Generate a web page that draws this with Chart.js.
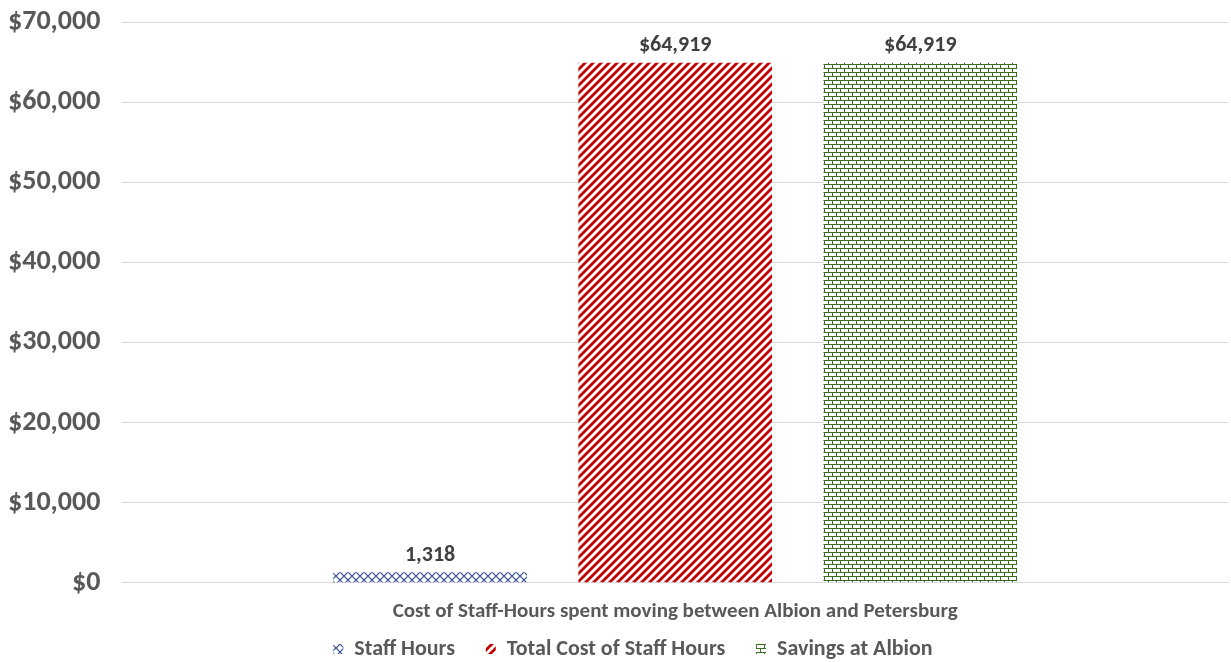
<!DOCTYPE html>
<html>
<head>
<meta charset="utf-8">
<script src="https://cdn.jsdelivr.net/npm/chart.js@4"></script>
<style>
  html, body { margin: 0; padding: 0; background: #fff; }
  #wrap { width: 1231px; height: 662px; }
</style>
</head>
<body>
<div id="wrap"><canvas id="chart"></canvas></div>
<script>
// chart data
const categories = ['Cost of Staff-Hours spent moving between Albion and Petersburg'];
const seriesNames = ['Staff Hours', 'Total Cost of Staff Hours', 'Savings at Albion'];
const staffHours = [1318];
const totalCost = [64919];
const savings = [64919];
const yTicks = [0, 10000, 20000, 30000, 40000, 50000, 60000, 70000];

const FONT = 'Carlito, Lato, "Open Sans", sans-serif';

// fill patterns (excel style)
function makePattern(size, draw) {
  const c = document.createElement('canvas');
  c.width = size; c.height = size;
  const g = c.getContext('2d');
  g.fillStyle = '#fff';
  g.fillRect(0, 0, size, size);
  draw(g, size);
  return g.createPattern(c, 'repeat');
}

const ctx = document.getElementById('chart').getContext('2d');

const crossPat = makePattern(8, (g, s) => {
  g.strokeStyle = '#2f4b8c'; g.lineWidth = 1.2;
  g.beginPath();
  g.moveTo(0, 0); g.lineTo(s, s);
  g.moveTo(s, 0); g.lineTo(0, s);
  g.stroke();
});

const stripePat = makePattern(8, (g, s) => {
  g.strokeStyle = '#c00000'; g.lineWidth = 2.8;
  g.beginPath();
  g.moveTo(-2, s + 2); g.lineTo(s + 2, -2);
  g.moveTo(-2, 2); g.lineTo(2, -2);
  g.moveTo(s - 2, s + 2); g.lineTo(s + 2, s - 2);
  g.stroke();
});

const brickPat = makePattern(8, (g, s) => {
  g.fillStyle = '#3b6a22';
  g.fillRect(0, 0, s, 1);
  g.fillRect(0, 4, s, 1);
  g.fillRect(0, 0, 1, 4);
  g.fillRect(4, 4, 1, 4);
});

// value labels above bars
const barLabels = {
  id: 'barLabels',
  afterLayout(chart) {
    // excel legend sits a bit right of centre
    chart.legend.left += 26;
    chart.legend.right += 26;
  },
  afterDatasetsDraw(chart) {
    const c = chart.ctx;
    c.save();
    c.font = 'bold 22px ' + FONT;
    c.fillStyle = '#404040';
    c.textAlign = 'center';
    c.textBaseline = 'bottom';
    chart.data.datasets.forEach((ds, i) => {
      chart.getDatasetMeta(i).data.forEach((bar, j) => {
        const v = ds.data[j];
        const txt = (i === 0 ? '' : '$') + v.toLocaleString('en-US');
        c.fillText(txt, bar.x, bar.y - 6);
      });
    });
    c.restore();
  }
};

new Chart(ctx, {
  type: 'bar',
  data: {
    labels: categories,
    datasets: [
      { label: seriesNames[0], data: staffHours, backgroundColor: crossPat },
      { label: seriesNames[1], data: totalCost, backgroundColor: stripePat },
      { label: seriesNames[2], data: savings, backgroundColor: brickPat }
    ]
  },
  options: {
    responsive: true,
    maintainAspectRatio: false,
    animation: false,
    categoryPercentage: 0.665,
    barPercentage: 0.79,
    layout: { padding: { top: 0, right: 3, left: -14, bottom: -8 } },
    plugins: {
      legend: {
        position: 'bottom',
        labels: {
          font: { family: FONT, size: 22, weight: 'bold' },
          color: '#595959',
          boxWidth: 10, boxHeight: 10,
          padding: 6,
          // wider gaps between entries, like the excel legend
          generateLabels: chart => {
            const items = Chart.defaults.plugins.legend.labels.generateLabels(chart);
            items.forEach((it, i) => { if (i < items.length - 1) it.text += '     '; });
            return items;
          }
        }
      },
      tooltip: { enabled: false }
    },
    scales: {
      x: {
        grid: { display: false },
        border: { color: '#d9d9d9' },
        ticks: {
          font: { family: FONT, size: 21, weight: 'bold' },
          color: '#595959',
          padding: 8
        }
      },
      y: {
        min: 0, max: 70000,
        afterBuildTicks: axis => { axis.ticks = yTicks.map(v => ({ value: v })); },
        afterFit: axis => { axis.paddingTop = 22; },
        grid: { color: '#d9d9d9', drawTicks: false },
        border: { display: false },
        ticks: {
          font: { family: FONT, size: 28, weight: 'bold' },
          color: '#595959',
          padding: 22,
          callback: v => '$' + v.toLocaleString('en-US')
        }
      }
    }
  },
  plugins: [barLabels]
});
</script>
</body>
</html>
